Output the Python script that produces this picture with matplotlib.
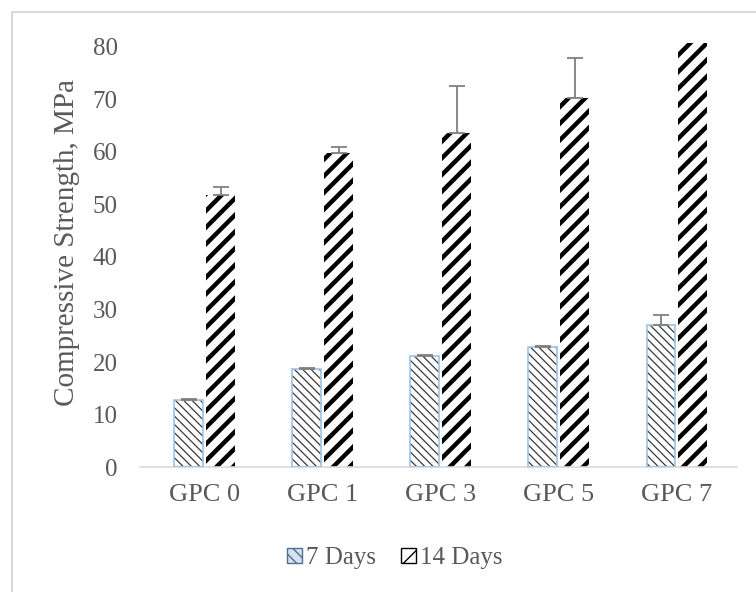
import matplotlib
matplotlib.use("Agg")
import matplotlib.pyplot as plt
import numpy as np
from matplotlib.patches import Patch, Rectangle

labels = ["GPC 0", "GPC 1", "GPC 3", "GPC 5", "GPC 7"]
days7 = [12.8, 18.7, 21.2, 22.8, 27.0]
days7_err = [0.2, 0.2, 0.2, 0.3, 2.0]
days14 = [51.8, 59.8, 63.6, 70.3, 82.0]
days14_err = [1.5, 1.2, 9.0, 7.6, 0.0]

plt.rcParams["font.family"] = ["Liberation Serif", "DejaVu Serif"]
text_col = "#595959"

fig = plt.figure(figsize=(7.56, 5.92), dpi=100)
ax = fig.add_axes([0.185, 0.211, 0.79, 0.716])

x = np.arange(len(labels))
w = 0.245
off = 0.135

# 7 days: thin dark hatch, light blue outline
b7 = ax.bar(x - off, days7, w, color="white", edgecolor="#3a3a3a",
            hatch="\\\\\\\\", linewidth=0, zorder=2)
ax.bar(x - off, days7, w, color="none", edgecolor="#9dc3e6", linewidth=1.2, zorder=3)

# 14 days: thick black hatch
b14 = ax.bar(x + off, days14, w, color="white", edgecolor="black",
             hatch="//", linewidth=0, zorder=2)
for b in b7:
    b.set_hatch_linewidth(0.9)
for b in b14:
    b.set_hatch_linewidth(3.2)

ax.errorbar(x - off, days7, yerr=[np.zeros(5), days7_err], fmt="none",
            ecolor="#7f7f7f", elinewidth=1.3, capsize=6, capthick=1.3, zorder=4)
ax.errorbar(x + off, days14, yerr=[np.zeros(5), days14_err], fmt="none",
            ecolor="#7f7f7f", elinewidth=1.3, capsize=6, capthick=1.3, zorder=4)

ax.set_ylim(0, 80.7)
ax.set_xlim(-0.55, 4.51)
ax.set_yticks(range(0, 81, 10))
ax.set_xticks(x)
ax.set_xticklabels(labels, fontsize=19, color=text_col)
ax.tick_params(axis="y", labelsize=18, labelcolor=text_col, length=0, pad=16)
ax.tick_params(axis="x", length=0, pad=12)
for s in ["top", "right", "left"]:
    ax.spines[s].set_visible(False)
ax.spines["bottom"].set_color("#d9d9d9")
ax.spines["bottom"].set_linewidth(1.2)
ax.set_ylabel("Compressive Strength, MPa", fontsize=21, color=text_col)
ax.yaxis.set_label_coords(-0.1, 0.53)

handles = [
    Patch(facecolor="#d6e2ef", edgecolor="#4f6f94", hatch="\\\\\\", label="7 Days"),
    Patch(facecolor="white", edgecolor="black", hatch="//", label="14 Days"),
]
leg = fig.legend(handles=handles, loc="center", bbox_to_anchor=(0.522, 0.057), ncol=2,
                 frameon=False, fontsize=18, handlelength=0.6, handleheight=0.6,
                 handletextpad=0.15, columnspacing=1.0)
for t in leg.get_texts():
    t.set_color(text_col)

# chart area border
fig.patches.append(Rectangle((12 / 756, -0.01), 1.0, 1 - 12 / 592 + 0.01,
                             transform=fig.transFigure, fill=False,
                             edgecolor="#d9d9d9", linewidth=1.5))

fig.savefig("out.png", dpi=100)
